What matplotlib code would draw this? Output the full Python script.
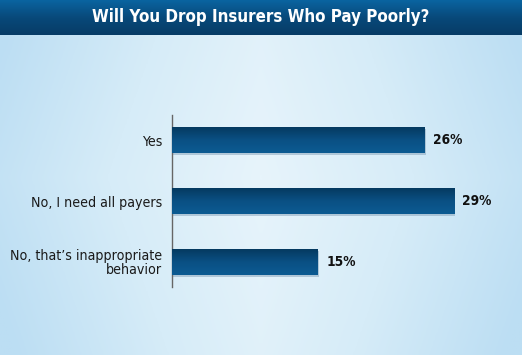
import numpy as np
import matplotlib
matplotlib.use("Agg")
import matplotlib.pyplot as plt
from matplotlib.colors import LinearSegmentedColormap
from matplotlib import font_manager
from matplotlib.font_manager import FontProperties

title = "Will You Drop Insurers Who Pay Poorly?"
categories = ["Yes", "No, I need all payers", "No, that\u2019s inappropriate\nbehavior"]
values = [26, 29, 15]
value_labels = ["26%", "29%", "15%"]


def find_font(bold):
    best = None
    for f in font_manager.fontManager.ttflist:
        cond = (f.stretch in ("condensed", "semi-condensed", "extra-condensed")
                or "Narrow" in f.name or "Condensed" in f.name
                or "ondensed" in f.fname or "Narrow" in f.fname)
        if not cond or f.style != "normal":
            continue
        isbold = (f.weight in ("bold", 700, "semibold", 600)) or (isinstance(f.weight, int) and f.weight >= 600)
        if isbold == bold:
            return f.fname
        best = best or f.fname
    return best


reg = find_font(False)
bld = find_font(True)
fp_reg = FontProperties(fname=reg) if reg else FontProperties(family="Roboto")
fp_bold = FontProperties(fname=bld) if bld else FontProperties(family="Roboto", weight="bold")

W, H = 522, 355
fig = plt.figure(figsize=(W / 100, H / 100), dpi=100)

# background gradient
bg = fig.add_axes([0, 0, 1, 1])
bg.set_axis_off()
xx = np.linspace(-1, 1, 300)
yy = np.linspace(-1, 1, 200)
X, Y = np.meshgrid(xx, yy)
d = np.clip(np.abs(X) * 0.85 + 0.2 * np.abs(Y), 0, 1)
bgcmap = LinearSegmentedColormap.from_list("bg", ["#e7f4fb", "#d6ecf8", "#bcdef3"])
bg.imshow(d, cmap=bgcmap, aspect="auto", extent=[0, 1, 0, 1], origin="lower")
bg.set_xlim(0, 1)
bg.set_ylim(0, 1)

# title bar
tb_h = 35 / H
tb = fig.add_axes([0, 1 - tb_h, 1, tb_h])
tb.set_axis_off()
grad = np.linspace(0, 1, 100).reshape(-1, 1)
tbcmap = LinearSegmentedColormap.from_list("tb", ["#0a64a0", "#08497a", "#073c66"])
tb.imshow(grad, cmap=tbcmap, aspect="auto", extent=[0, 1, 0, 1], origin="upper")
tb.set_xlim(0, 1)
tb.set_ylim(0, 1)
fpt = fp_bold.copy()
fpt.set_size(12.2)
tb.text(0.5, 0.5, title, color="white", fontproperties=fpt, ha="center", va="center")

# main axes
left, right = 172, 512
top, bottom = 115, 287
ax = fig.add_axes([left / W, 1 - bottom / H, (right - left) / W, (bottom - top) / H])
ax.patch.set_alpha(0)
scale = 9.73
ax.set_xlim(0, (right - left) / scale)
ax.set_ylim(2.41, -0.41)
ypos = np.arange(len(categories))
bars = ax.barh(ypos, values, height=0.426, color="#0a4d7c", edgecolor="none", zorder=2)

barcmap = LinearSegmentedColormap.from_list("bar", ["#053a60", "#0a5084", "#0c5b92"])
for b in bars:
    x0, y0 = b.get_x(), b.get_y()
    w, h = b.get_width(), b.get_height()
    ax.barh(y0 + h / 2 + 0.035, w + 0.12, height=h, left=x0, color="#8aa6bd", alpha=0.55,
            zorder=1, edgecolor="none")
    im = ax.imshow(grad, cmap=barcmap, aspect="auto", extent=[x0, x0 + w, y0 + h, y0],
                   origin="upper", zorder=3)
    im.set_clip_path(b)

fpv = fp_bold.copy()
fpv.set_size(9.8)
for y, v, lab in zip(ypos, values, value_labels):
    ax.text(v + 0.85, y, lab, ha="left", va="center", fontproperties=fpv, color="#111111")

fpc = fp_reg.copy()
fpc.set_size(10.2)
ax.set_yticks(ypos)
ax.set_yticklabels(categories, color="#1a1a1a", linespacing=0.95)
for t in ax.get_yticklabels():
    t.set_fontproperties(fpc)
ax.tick_params(axis="y", length=0, pad=7)
ax.set_xticks([])
for s in ["top", "right", "bottom"]:
    ax.spines[s].set_visible(False)
ax.spines["left"].set_color("#666666")
ax.spines["left"].set_linewidth(1)
ax.set_xlim(0, (right - left) / scale)
ax.set_ylim(2.41, -0.41)

fig.savefig("out.png", dpi=100)
